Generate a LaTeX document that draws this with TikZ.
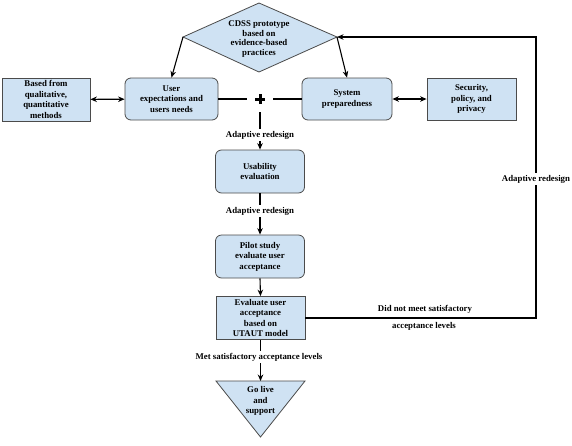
\documentclass[tikz,border=0pt]{standalone}
\usepackage{fontspec}
\setmainfont{Liberation Serif}
\usetikzlibrary{arrows.meta}
\definecolor{boxfill}{RGB}{207,226,243}
\definecolor{boxdraw}{RGB}{75,75,75}
\begin{document}
\begin{tikzpicture}[x=1pt,y=-1pt,
  lbl/.style={font=\fontsize{8.8}{10.4}\selectfont\bfseries, align=center, inner sep=1pt},
  rbox/.style={draw=boxdraw, fill=boxfill, rounded corners=6pt, line width=0.8pt, minimum width=89pt, minimum height=43pt, lbl},
  sbox/.style={draw=boxdraw, fill=boxfill, line width=0.8pt, minimum width=89pt, minimum height=43pt, lbl},
  arr/.style={-{Stealth[length=6.5pt,width=5.5pt]}, line width=1.1pt},
  darr/.style={{Stealth[length=6.5pt,width=5.5pt]}-{Stealth[length=6.5pt,width=5.5pt]}, line width=1.1pt},
  shp/.style={draw=boxdraw, fill=boxfill, line width=0.8pt},
  tag/.style={lbl, fill=white, inner sep=1.5pt}]
\useasboundingbox (0,0) rectangle (572,445);
% diamond
\coordinate (dt) at (259,3);
\coordinate (dl) at (183,37);
\coordinate (dr) at (337,37);
\coordinate (db) at (259,72);
\draw[shp] (dt) -- (dr) -- (db) -- (dl) -- cycle;
\node[lbl, font=\fontsize{8.8}{9.6}\selectfont\bfseries] (cdss) at (259,39) {CDSS prototype\\based on\\evidence-based\\practices};
% row of boxes
\node[sbox, minimum width=88pt] (based) at (46,99.5) {Based from\\qualitative,\\quantitative\\methods};
\node[rbox, minimum width=93pt, minimum height=42pt] (user) at (171.5,99) {User\\expectations and\\users needs};
\node[rbox, minimum width=90pt, minimum height=42pt] (sys) at (347,99) {System\\preparedness};
\node[sbox, minimum height=42pt] (sec) at (471.5,99) {Security,\\policy, and\\privacy};
\node[minimum size=26pt, inner sep=0pt] (plus) at (260,99) {};
\draw[line width=3pt] ([xshift=-5pt]plus.center) -- ([xshift=5pt]plus.center);
\draw[line width=3pt] ([yshift=-5pt]plus.center) -- ([yshift=5pt]plus.center);
% column
\node[rbox] (usab) at (260,171.5) {Usability\\evaluation};
\node[rbox] (pilot) at (260,256.5) {Pilot study\\evaluate user\\acceptance};
\node[sbox] (eval) at (260.5,318) {Evaluate user\\acceptance\\based on\\UTAUT model};
% triangle
\coordinate (tl) at (216,381);
\coordinate (tr) at (305,381);
\coordinate (tb) at (260.5,437);
\coordinate (ttop) at (260.5,381);
\draw[shp] (tl) -- (tr) -- (tb) -- cycle;
\node[lbl] (golive) at (260.5,401) {Go live\\and\\support};
% connectors
\draw[arr] (dl) -- (user.north);
\draw[arr] (dr) -- (sys.north);
\draw[darr] (based) -- (user);
\draw[darr] (sys) -- (sec);
\draw[line width=1.1pt] (user.east) -- (plus.west);
\draw[line width=1.1pt] (plus.east) -- (sys.west);
\draw[arr] (plus.south) -- (usab.north);
\node[tag] (ad1) at (260,135) {Adaptive redesign};
\draw[arr] (usab.south) -- (pilot.north);
\node[tag] (ad2) at (260,211) {Adaptive redesign};
\draw[arr] (pilot.south) -- (eval.north);
\draw[arr] (eval.south) -- (ttop);
\node[tag] (met) at (259,357) {Met satisfactory acceptance levels};
\coordinate (fb1) at (536,318);
\coordinate (fb2) at (536,37);
\draw[arr, line width=1.3pt] (eval.east) -- (fb1) -- (fb2) -- (dr);
\node[tag] (ad3) at (536,179) {Adaptive redesign};
\node[lbl] (dnm1) at (425,309) {Did not meet satisfactory};
\node[lbl] (dnm2) at (424,326) {acceptance levels};
\end{tikzpicture}
\end{document}
